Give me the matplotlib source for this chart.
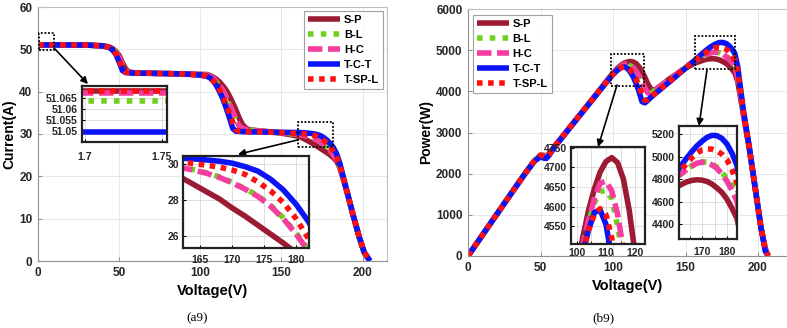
import matplotlib.pyplot as plt
from matplotlib.patches import Rectangle
from matplotlib.ticker import MultipleLocator

plt.rcParams['font.family'] = ['Liberation Sans', 'DejaVu Sans']
plt.rcParams['font.weight'] = 'bold'
plt.rcParams['axes.labelweight'] = 'bold'

# ---------------- data ----------------
series = ['S-P', 'B-L', 'H-C', 'T-C-T', 'T-SP-L']

# I-V curves (a9)
v_iv = [0, 10, 20, 30, 40, 44, 46, 48, 50, 52,
        54, 56, 58, 64, 75, 90, 100, 104, 106, 108,
        110, 112, 114, 116, 118, 120, 122, 124, 126, 128,
        130, 140, 150, 156, 160, 162, 164, 166, 168, 170,
        172, 174, 176, 178, 180, 182, 184, 186, 190, 194,
        198, 201, 204.5]

i_sp = [51.068, 51.068, 51.05, 51.0, 50.85, 50.55, 50.15, 49.5, 48.5, 46.8,
        45.3, 44.7, 44.5, 44.4, 44.3, 44.2, 44.1, 44.05, 43.8, 43.4,
        42.9, 42.2, 41.3, 40.3, 38.9, 37.3, 35.6, 33.7, 32.2, 31.4,
        31.0, 30.6, 30.2, 29.8, 29.5, 29.25, 28.85, 28.45, 28.05, 27.55,
        27.1, 26.6, 26.1, 25.6, 25.05, 24.4, 23.6, 22.0, 16.8, 11.0,
        5.5, 2.0, 0.0]
i_bl = [51.0636, 51.0636, 51.05, 51.0, 50.85, 50.5, 50.05, 49.3, 48.0, 46.2,
        44.9, 44.6, 44.5, 44.4, 44.3, 44.2, 44.0, 43.85, 43.5, 42.95,
        42.2, 41.25, 39.9, 38.4, 36.8, 34.9, 33.1, 31.8, 31.3, 31.1,
        30.9, 30.6, 30.3, 30.05, 29.9, 29.82, 29.68, 29.5, 29.28, 28.98,
        28.63, 28.24, 27.7, 27.0, 26.15, 25.2, 24.0, 22.3, 16.8, 11.0,
        5.5, 2.0, 0.0]
i_hc = [51.0675, 51.0675, 51.05, 51.0, 50.85, 50.5, 50.05, 49.3, 48.0, 46.2,
        44.9, 44.6, 44.5, 44.4, 44.3, 44.2, 44.0, 43.9, 43.6, 43.15,
        42.4, 41.4, 40.2, 38.7, 37.0, 35.2, 33.4, 31.9, 31.3, 31.1,
        30.9, 30.6, 30.3, 30.05, 29.88, 29.8, 29.65, 29.48, 29.25, 28.95,
        28.6, 28.2, 27.65, 26.95, 26.1, 25.1, 23.9, 22.3, 16.8, 11.0,
        5.5, 2.0, 0.0]
i_tct = [51.0497, 51.0497, 51.04, 51.0, 50.8, 50.4, 49.8, 48.8, 47.0, 45.0,
         44.5, 44.45, 44.4, 44.35, 44.3, 44.2, 43.9, 43.65, 43.25, 42.5,
         41.4, 39.9, 38.2, 36.1, 33.8, 31.3, 30.65, 30.6, 30.55, 30.55,
         30.5, 30.45, 30.4, 30.37, 30.35, 30.32, 30.28, 30.22, 30.15, 30.04,
         29.85, 29.6, 29.15, 28.55, 27.75, 26.75, 25.3, 23.0, 17.0, 11.0,
         5.5, 2.0, 0.0]
i_tspl = [51.068, 51.068, 51.05, 51.0, 50.8, 50.45, 49.9, 49.0, 47.4, 45.5,
          44.6, 44.5, 44.45, 44.4, 44.3, 44.2, 43.9, 43.65, 43.2, 42.55,
          41.6, 40.4, 38.8, 37.0, 34.9, 32.7, 31.0, 30.65, 30.6, 30.55,
          30.5, 30.45, 30.35, 30.2, 30.15, 30.1, 30.02, 29.93, 29.82, 29.66,
          29.42, 29.0, 28.5, 27.85, 26.95, 25.8, 24.5, 22.6, 16.9, 11.0,
          5.5, 2.0, 0.0]

# P-V curves (b9)
v_pv = [0, 10, 20, 30, 40, 46, 50, 52, 54, 56,
        60, 70, 80, 90, 98, 100, 102, 104, 106, 108,
        110, 112, 114, 116, 118, 120, 122, 124, 126, 128,
        130, 140, 150, 156, 160, 162, 164, 166, 168, 170,
        172, 174, 176, 178, 180, 182, 184, 186, 190, 194,
        198, 202, 205, 207]

p_sp = [0, 510, 1020, 1530, 2035, 2320, 2450, 2445, 2430, 2480,
        2680, 3120, 3560, 4000, 4360, 4440, 4520, 4590, 4645, 4688,
        4715, 4725, 4712, 4670, 4590, 4480, 4340, 4180, 4060, 4020,
        4060, 4330, 4560, 4680, 4730, 4755, 4775, 4788, 4793, 4790,
        4778, 4755, 4720, 4680, 4620, 4540, 4450, 4250, 3420, 2600,
        1650, 700, 180, 0]
p_bl = [0, 510, 1020, 1530, 2035, 2320, 2440, 2430, 2410, 2470,
        2670, 3110, 3550, 3990, 4340, 4420, 4495, 4560, 4610, 4638,
        4642, 4620, 4550, 4460, 4340, 4190, 4040, 3940, 3950, 4000,
        4050, 4320, 4580, 4740, 4820, 4852, 4888, 4918, 4942, 4952,
        4950, 4935, 4905, 4860, 4800, 4745, 4680, 4380, 3460, 2620,
        1660, 700, 180, 0]
p_hc = [0, 510, 1020, 1530, 2035, 2320, 2440, 2430, 2410, 2470,
        2670, 3110, 3550, 3990, 4340, 4420, 4500, 4565, 4620, 4660,
        4665, 4640, 4580, 4490, 4370, 4230, 4080, 3960, 3950, 4000,
        4050, 4320, 4580, 4740, 4820, 4852, 4885, 4915, 4940, 4950,
        4945, 4925, 4895, 4845, 4780, 4700, 4600, 4340, 3450, 2610,
        1660, 700, 180, 0]
p_tct = [0, 510, 1020, 1530, 2035, 2310, 2410, 2380, 2370, 2450,
         2660, 3100, 3540, 3980, 4330, 4410, 4480, 4540, 4585, 4592,
         4555, 4470, 4350, 4190, 3990, 3750, 3720, 3780, 3850, 3910,
         3970, 4260, 4560, 4740, 4870, 4930, 4990, 5045, 5095, 5135,
         5170, 5188, 5185, 5160, 5110, 5030, 4920, 4600, 3520, 2650,
         1680, 700, 120, 0]
p_tspl = [0, 510, 1020, 1530, 2035, 2320, 2445, 2430, 2410, 2470,
          2670, 3110, 3550, 3990, 4330, 4410, 4480, 4540, 4580, 4595,
          4580, 4520, 4420, 4290, 4120, 3920, 3780, 3800, 3860, 3920,
          3980, 4270, 4570, 4740, 4845, 4890, 4940, 4990, 5030, 5058,
          5068, 5065, 5050, 5020, 4970, 4880, 4760, 4480, 3480, 2630,
          1670, 700, 180, 0]

currents = [i_sp, i_bl, i_hc, i_tct, i_tspl]
powers = [p_sp, p_bl, p_hc, p_tct, p_tspl]

# ---------------- styles ----------------
colors = {'S-P': '#9b1b32', 'B-L': '#6fd020', 'H-C': '#f53c9f',
          'T-C-T': '#0a14f5', 'T-SP-L': '#ff1010'}
styles = {'S-P': '-', 'B-L': (0, (1, 1.3)), 'H-C': (0, (2.6, 1)),
          'T-C-T': '-', 'T-SP-L': (0, (1, 1))}
LW = 4.0

W, H = 787, 328
fig = plt.figure(figsize=(W / 100, H / 100), dpi=100)


def px_axes(x0, y0, x1, y1):
    # axes rectangle given in image pixels (top-left origin)
    return fig.add_axes([x0 / W, 1 - y1 / H, (x1 - x0) / W, (y1 - y0) / H])


def draw(ax, x, ys):
    for name, y in zip(series, ys):
        ax.plot(x, y, color=colors[name], lw=LW, linestyle=styles[name],
                label=name, solid_capstyle='butt', dash_capstyle='butt')


def style_main(ax):
    ax.grid(True, color='#e4e4e4', lw=0.6)
    ax.set_axisbelow(True)
    for s in ax.spines.values():
        s.set_color('#c0c0c0')
        s.set_linewidth(0.8)
    ax.spines['left'].set_color('#909090')
    ax.spines['bottom'].set_color('#909090')
    ax.tick_params(direction='in', length=3, color='#909090',
                   labelcolor='#262626', labelsize=8.5, pad=4)


def style_inset(ax):
    ax.grid(True, which='both', color='#d8d8d8', lw=0.6)
    ax.set_axisbelow(True)
    for s in ax.spines.values():
        s.set_color('#222222')
        s.set_linewidth(1.6)
    ax.tick_params(which='both', direction='in', length=2, labelsize=7.5,
                   labelcolor='#262626', pad=3)


def zoom_box(ax, x0, x1, y0, y1):
    ax.add_patch(Rectangle((x0, y0), x1 - x0, y1 - y0, fill=False, ec='k',
                           lw=1.3, ls=(0, (1, 1)), zorder=5))


def arrow(ax, start, end):
    ax.annotate('', xy=end, xytext=start, annotation_clip=False,
                arrowprops=dict(arrowstyle='-|>', color='k', lw=1.2,
                                mutation_scale=10, shrinkA=0, shrinkB=0),
                zorder=6)


# ---------------- (a9) I-V ----------------
ax1 = px_axes(38, 7, 387, 261)
draw(ax1, v_iv, currents)
ax1.set_xlim(0, 215)
ax1.set_ylim(0, 60)
ax1.set_xticks([0, 50, 100, 150, 200])
ax1.set_yticks(range(0, 61, 10))
style_main(ax1)
ax1.set_xlabel('Voltage(V)', fontsize=10.5, fontweight='bold', labelpad=4)
ax1.set_ylabel('Current(A)', fontsize=10, fontweight='bold', labelpad=2)
leg = ax1.legend(loc='upper right', bbox_to_anchor=(0.988, 0.985),
                 fontsize=8, frameon=True, fancybox=False, edgecolor='#8a8a8a',
                 handlelength=2.9, handletextpad=0.3, borderpad=0.35,
                 labelspacing=0.45, borderaxespad=0)
leg.get_frame().set_linewidth(0.8)
zoom_box(ax1, 0.6, 9.9, 49.8, 53.8)
zoom_box(ax1, 160, 181.5, 26.9, 32.8)
arrow(ax1, (9.9, 50.3), (30.8, 41.8))
arrow(ax1, (160, 28.6), (123.2, 25.2))

# inset near V = 1.7
in1 = px_axes(82, 86, 167, 142)
draw(in1, v_iv, currents)
in1.set_xlim(1.698, 1.7535)
in1.set_ylim(51.045, 51.0705)
in1.set_xticks([1.7, 1.75])
in1.set_xticklabels(['1.7', '1.75'])
in1.set_yticks([51.05, 51.055, 51.06, 51.065])
in1.set_yticklabels(['51.05', '51.055', '51.06', '51.065'])
style_inset(in1)
in1.tick_params(axis='x', pad=7)

# inset near V = 170
in2 = px_axes(183, 156, 309, 248)
draw(in2, v_iv, currents)
in2.set_xlim(162.3, 182)
in2.set_ylim(25.33, 30.44)
in2.set_xticks([165, 170, 175, 180])
in2.set_yticks([26, 28, 30])
style_inset(in2)
in2.tick_params(axis='x', pad=5)

# ---------------- (b9) P-V ----------------
ax2 = px_axes(468, 9, 787, 256)
draw(ax2, v_pv, powers)
ax2.set_xlim(0, 220)
ax2.set_ylim(0, 6000)
ax2.set_xticks([0, 50, 100, 150, 200])
ax2.set_yticks(range(0, 6001, 1000))
style_main(ax2)
ax2.set_xlabel('Voltage(V)', fontsize=10.5, fontweight='bold', labelpad=4)
ax2.set_ylabel('Power(W)', fontsize=10, fontweight='bold', labelpad=2)
leg2 = ax2.legend(loc='upper left', bbox_to_anchor=(0.016, 0.976),
                  fontsize=8, frameon=True, fancybox=False, edgecolor='#8a8a8a',
                  handlelength=2.9, handletextpad=0.3, borderpad=0.35,
                  labelspacing=0.45, borderaxespad=0)
leg2.get_frame().set_linewidth(0.8)
zoom_box(ax2, 98.6, 121.4, 4129, 4907)
zoom_box(ax2, 156.6, 184.1, 4542, 5344)
arrow(ax2, (102.8, 4154), (89.7, 2648))
arrow(ax2, (164.8, 4518), (159.3, 3158))

in3 = px_axes(571, 147, 645, 244)
draw(in3, v_pv, powers)
in3.set_xlim(98, 123.4)
in3.set_ylim(4505, 4752)
in3.set_xticks([100, 110, 120])
in3.xaxis.set_minor_locator(MultipleLocator(5))
in3.set_yticks([4550, 4600, 4650, 4700, 4750])
style_inset(in3)

in4 = px_axes(679, 126, 737, 239)
draw(in4, v_pv, powers)
in4.set_xlim(160.8, 184)
in4.set_ylim(4267, 5271)
in4.set_xticks([170, 180])
in4.xaxis.set_minor_locator(MultipleLocator(5))
in4.set_yticks([4400, 4600, 4800, 5000, 5200])
style_inset(in4)
in4.tick_params(axis='x', pad=6)

# sub-figure captions
fig.text(197 / W, 1 - 318 / H, '(a9)', ha='center', va='center',
         fontsize=9.5, fontweight='normal', family='Liberation Serif')
fig.text(603 / W, 1 - 318 / H, '(b9)', ha='center', va='center',
         fontsize=9.5, fontweight='normal', family='Liberation Serif')

fig.savefig('out.png', dpi=100)
